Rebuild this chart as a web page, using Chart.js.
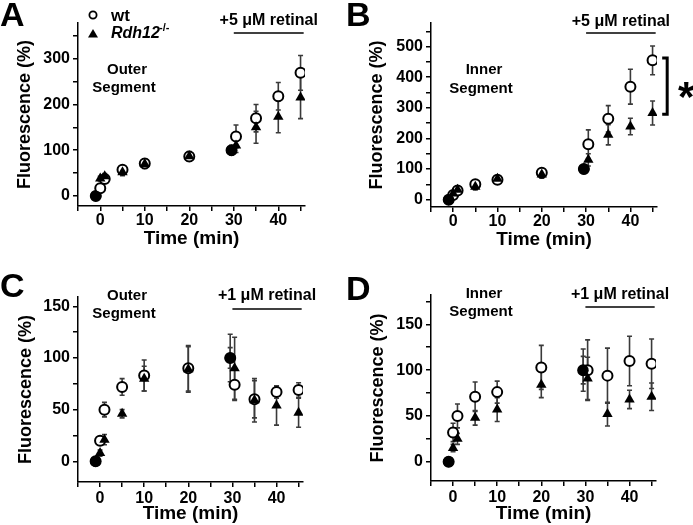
<!DOCTYPE html>
<html>
<head>
<meta charset="utf-8">
<script src="https://cdn.jsdelivr.net/npm/chart.js@4.4.0/dist/chart.umd.min.js"></script>
<style>
  body { margin: 0; background: #fff; width: 693px; height: 525px; position: relative; overflow: hidden; }
  canvas { position: absolute; }
</style>
</head>
<body>
<canvas id="panelA" width="346" height="262" style="left:0;top:0"></canvas>
<canvas id="panelB" width="347" height="262" style="left:346px;top:0"></canvas>
<canvas id="panelC" width="346" height="263" style="left:0;top:262px"></canvas>
<canvas id="panelD" width="347" height="263" style="left:346px;top:262px"></canvas>
<script>
// time points (min); -1 and 29.5 are the normalisation points
const times = [-1, 0, 1, 5, 10, 20, 29.5, 30.5, 35, 40, 45];

// axis ticks (labels only on the round ones)
const xTicks = [-5, 0, 5, 10, 15, 20, 25, 30, 35, 40, 45];
const xLabels = [0, 10, 20, 30, 40];
const yTicksA = [0, 50, 100, 150, 200, 250, 300, 350];
const yTicksB = [0, 50, 100, 150, 200, 250, 300, 350, 400, 450, 500, 550];
const yTicksC = [0, 25, 50, 75, 100, 125, 150];
const yTicksD = [0, 25, 50, 75, 100, 125, 150, 175];
const yLabelsA = [0, 100, 200, 300];
const yLabelsB = [0, 100, 200, 300, 400, 500];
const yLabelsCD = [0, 50, 100, 150];

// A: outer segment, +5 uM retinal
const wtA     = [0, 17, 37, 57, 71, 86, 100, 130, 170, 218, 269];
const wtErrA  = [0, 5, 5, 6, 10, 10, 10, 25, 30, 30, 38];
const rdhA    = [0, 38, 43, 52, 70, 87, 100, 110, 150, 173, 215];
const rdhErrA = [0, 5, 6, 8, 10, 10, 10, 15, 35, 35, 46];

// B: inner segment, +5 uM retinal
const wtB     = [0, 15, 30, 50, 65, 88, 100, 181, 264, 369, 455];
const wtErrB  = [0, 5, 8, 8, 8, 10, 8, 47, 43, 57, 47];
const rdhB    = [0, 20, 32, 42, 68, 82, 100, 130, 212, 239, 283];
const rdhErrB = [0, 5, 8, 10, 8, 12, 8, 20, 33, 27, 39];

// C: outer segment, +1 uM retinal
const wtC     = [0, 20, 50, 72, 83, 90, 100, 74, 60, 67, 69];
const wtErrC  = [0, 3, 7, 8, 15, 22, 23, 15, 18, 6, 7];
const rdhC    = [0, 8, 21, 46, 80, 89, 100, 90, 59, 54, 47];
const rdhErrC = [0, 3, 5, 4, 12, 22, 10, 30, 21, 19, 14];

// D: inner segment, +1 uM retinal
const wtD     = [0, 32, 50, 71, 76, 103, 100, 100, 94, 110, 107];
const wtErrD  = [0, 10, 13, 16, 12, 24, 23, 33, 30, 27, 27];
const rdhD    = [0, 15, 25, 48, 57, 84, 100, 91, 52, 68, 71];
const rdhErrD = [0, 4, 6, 8, 13, 14, 15, 23, 13, 10, 15];

const FONT = "'Liberation Sans', Arial, sans-serif";

const panels = [
    { id: 'panelA', letter: 'A', letterY: 26, wt: wtA, wtErr: wtErrA, rdh: rdhA, rdhErr: rdhErrA,
      yMin: -22, yMax: 378, yTicks: yTicksA, yLabels: yLabelsA,
      pad: { left: 0, right: 41, top: 23, bottom: 0 }, yWidth: 78, xHeight: 56, yTitlePad: 14, xTitlePad: 12, xTickPad: 0,
      retinal: '+5 μM retinal', retTextY: 21, retLineY: 33,
      seg: ['Outer', 'Segment'], segX: 124, segY: [70, 88], legend: true },
    { id: 'panelB', letter: 'B', letterY: 26, wt: wtB, wtErr: wtErrB, rdh: rdhB, rdhErr: rdhErrB,
      yMin: -24, yMax: 577, yTicks: yTicksB, yLabels: yLabelsB,
      pad: { left: 0, right: 36, top: 23, bottom: 0 }, yWidth: 85, xHeight: 55, yTitlePad: 20, xTitlePad: 11, xTickPad: 0,
      retinal: '+5 μM retinal', retTextY: 22, retLineY: 33,
      seg: ['Inner', 'Segment'], segX: 135, segY: [70, 89], bracket: true },
    { id: 'panelC', letter: 'C', letterY: 35, wt: wtC, wtErr: wtErrC, rdh: rdhC, rdhErr: rdhErrC,
      yMin: -20, yMax: 159, yTicks: yTicksC, yLabels: yLabelsCD,
      pad: { left: 0, right: 43, top: 35, bottom: 0 }, yWidth: 78, xHeight: 43, yTitlePad: 15, xTitlePad: 0, xTickPad: 2,
      retinal: '+1 μM retinal', retTextY: 34, retLineY: 47,
      seg: ['Outer', 'Segment'], segX: 124, segY: [34, 52] },
    { id: 'panelD', letter: 'D', letterY: 38, wt: wtD, wtErr: wtErrD, rdh: rdhD, rdhErr: rdhErrD,
      yMin: -21, yMax: 182, yTicks: yTicksD, yLabels: yLabelsCD,
      pad: { left: 0, right: 37, top: 33, bottom: 0 }, yWidth: 85, xHeight: 44, yTitlePad: 21, xTitlePad: 0, xTickPad: 2,
      retinal: '+1 μM retinal', retTextY: 33, retLineY: 45,
      seg: ['Inner', 'Segment'], segX: 135, segY: [32, 50] }
];

// error bars under the markers, labels/annotations on top
const panelDecor = {
    id: 'panelDecor',
    beforeDatasetsDraw(chart) {
        const ctx = chart.ctx;
        const xs = chart.scales.x, ys = chart.scales.y;
        ctx.save();
        ctx.strokeStyle = '#3a3a3a';
        ctx.lineWidth = 1.6;
        chart.data.datasets.forEach(ds => {
            ds.data.forEach((p, j) => {
                const e = ds.errors[j];
                if (!e) return;
                const x = xs.getPixelForValue(p.x);
                const yTop = ys.getPixelForValue(p.y + e);
                const yBot = ys.getPixelForValue(p.y - e);
                ctx.beginPath();
                ctx.moveTo(x, yTop); ctx.lineTo(x, yBot);
                ctx.moveTo(x - 2.5, yTop); ctx.lineTo(x + 2.5, yTop);
                ctx.moveTo(x - 2.5, yBot); ctx.lineTo(x + 2.5, yBot);
                ctx.stroke();
            });
        });
        ctx.restore();
    },
    afterDraw(chart) {
        const cfg = chart.options.plugins.panelDecor;
        const ctx = chart.ctx;
        const xs = chart.scales.x, ys = chart.scales.y;
        ctx.save();
        ctx.fillStyle = '#000';
        ctx.strokeStyle = '#000';

        // panel letter
        ctx.font = 'bold 34px ' + FONT;
        ctx.textAlign = 'left';
        ctx.textBaseline = 'alphabetic';
        ctx.fillText(cfg.letter, 0, cfg.letterY);

        // retinal bar
        const x1 = xs.getPixelForValue(30), x2 = xs.getPixelForValue(45.7);
        ctx.lineWidth = 1.5;
        ctx.beginPath();
        ctx.moveTo(x1, cfg.retLineY); ctx.lineTo(x2, cfg.retLineY);
        ctx.stroke();
        ctx.font = 'bold 16px ' + FONT;
        ctx.textAlign = 'center';
        ctx.textBaseline = 'middle';
        ctx.fillText(cfg.retinal, (x1 + x2) / 2, cfg.retTextY);

        // segment label
        ctx.font = 'bold 15px ' + FONT;
        ctx.fillText(cfg.seg[0], cfg.segX + 3, cfg.segY[0]);
        ctx.fillText(cfg.seg[1], cfg.segX, cfg.segY[1]);

        if (cfg.legend) {
            ctx.lineWidth = 1.8;
            ctx.beginPath();
            ctx.arc(93, 15, 3.6, 0, Math.PI * 2);
            ctx.stroke();
            ctx.beginPath();
            ctx.moveTo(93, 29); ctx.lineTo(98, 37.5); ctx.lineTo(88, 37.5);
            ctx.closePath();
            ctx.fill();
            ctx.textAlign = 'left';
            ctx.textBaseline = 'alphabetic';
            ctx.font = 'bold 17px ' + FONT;
            ctx.fillText('wt', 111, 21);
            ctx.font = 'italic bold 16px ' + FONT;
            ctx.fillText('Rdh12', 111, 38);
            ctx.font = 'bold 11px ' + FONT;
            ctx.fillText('-/-', 159, 31);
        }

        if (cfg.bracket) {
            const bx = xs.getPixelForValue(48.3);
            const bTop = ys.getPixelForValue(463), bBot = ys.getPixelForValue(279);
            ctx.lineWidth = 3;
            ctx.beginPath();
            ctx.moveTo(bx - 5, bTop); ctx.lineTo(bx, bTop); ctx.lineTo(bx, bBot); ctx.lineTo(bx - 5, bBot);
            ctx.stroke();
            ctx.font = 'bold 42px ' + FONT;
            ctx.textAlign = 'center';
            ctx.textBaseline = 'alphabetic';
            ctx.fillText('*', bx + 19, (bTop + bBot) / 2 + 25);
        }
        ctx.restore();
    }
};

Chart.defaults.font.family = FONT;
Chart.defaults.color = '#000';

panels.forEach(p => {
    const wtPts = times.map((t, i) => ({ x: t, y: p.wt[i] }));
    const rdhPts = times.map((t, i) => ({ x: t, y: p.rdh[i] }));
    const rdhStyle = times.map(t => (t === -1 || t === 29.5) ? 'circle' : 'triangle');

    new Chart(document.getElementById(p.id).getContext('2d'), {
        type: 'scatter',
        data: {
            datasets: [
                {
                    label: 'wt',
                    data: wtPts,
                    errors: p.wtErr,
                    pointStyle: 'circle',
                    pointRadius: 5,
                    pointBorderWidth: 2,
                    pointBorderColor: '#000',
                    pointBackgroundColor: '#fff',
                    order: 1
                },
                {
                    label: 'Rdh12-/-',
                    data: rdhPts,
                    errors: p.rdhErr,
                    pointStyle: rdhStyle,
                    pointRadius: rdhStyle.map(s => s === 'circle' ? 5.5 : 6),
                    pointBorderWidth: 0,
                    pointBorderColor: '#000',
                    pointBackgroundColor: '#000',
                    order: 0
                }
            ]
        },
        options: {
            responsive: false,
            animation: false,
            events: [],
            layout: { padding: p.pad },
            plugins: {
                legend: { display: false },
                tooltip: { enabled: false },
                panelDecor: {
                    letter: p.letter, letterY: p.letterY,
                    retinal: p.retinal, retTextY: p.retTextY, retLineY: p.retLineY,
                    seg: p.seg, segX: p.segX, segY: p.segY,
                    legend: !!p.legend, bracket: !!p.bracket
                }
            },
            scales: {
                x: {
                    type: 'linear',
                    min: -5,
                    max: 46,
                    afterBuildTicks: s => { s.ticks = xTicks.map(v => ({ value: v })); },
                    afterFit: s => { s.height = p.xHeight; },
                    ticks: {
                        autoSkip: false,
                        maxRotation: 0,
                        padding: p.xTickPad,
                        font: { size: 16, weight: 'bold' },
                        callback: v => xLabels.includes(v) ? String(v) : ''
                    },
                    grid: { display: true, drawOnChartArea: false, drawTicks: true, tickLength: 5, color: '#000', lineWidth: 1.5 },
                    border: { display: true, color: '#000', width: 1.5 },
                    title: {
                        display: true,
                        text: 'Time (min)',
                        font: { size: 19, weight: 'bold' },
                        padding: { top: 0, bottom: p.xTitlePad }
                    }
                },
                y: {
                    type: 'linear',
                    min: p.yMin,
                    max: p.yMax,
                    afterBuildTicks: s => { s.ticks = p.yTicks.map(v => ({ value: v })); },
                    afterFit: s => { s.width = p.yWidth; },
                    ticks: {
                        autoSkip: false,
                        padding: 3,
                        font: { size: 16, weight: 'bold' },
                        callback: v => p.yLabels.includes(v) ? String(v) : ''
                    },
                    grid: { display: true, drawOnChartArea: false, drawTicks: true, tickLength: 5, color: '#000', lineWidth: 1.5 },
                    border: { display: true, color: '#000', width: 1.5 },
                    title: {
                        display: true,
                        text: 'Fluorescence (%)',
                        font: { size: 18, weight: 'bold' },
                        padding: { top: p.yTitlePad, bottom: 0 }
                    }
                }
            }
        },
        plugins: [panelDecor]
    });
});
</script>
</body>
</html>
